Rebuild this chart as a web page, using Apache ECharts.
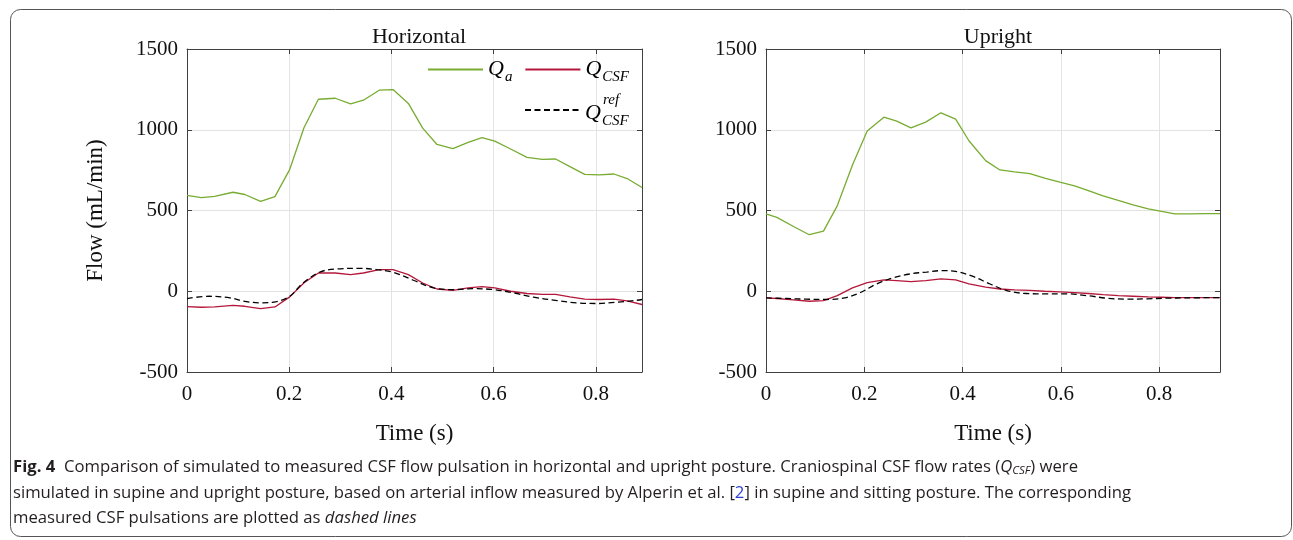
<!DOCTYPE html>
<html>
<head>
<meta charset="utf-8">
<script src="https://cdn.jsdelivr.net/npm/echarts@6/dist/echarts.min.js"></script>
<style>
html,body{margin:0;padding:0;background:#fff;}
#c{width:1293px;height:540px;}
</style>
</head>
<body>
<div id="c"></div>
<script>
// ---- data ----
const xTicks = [0, 0.2, 0.4, 0.6, 0.8];
const yTicks = [-500, 0, 500, 1000, 1500];

// Horizontal panel
const tH = [0,0.028,0.054,0.09,0.113,0.144,0.172,0.201,0.229,0.257,0.29,0.32,0.345,0.376,0.403,0.433,0.461,0.489,0.52,0.55,0.577,0.602,0.633,0.665,0.695,0.721,0.749,0.778,0.806,0.835,0.861,0.89];
const qaH = [593,580,588,613,599,556,586,755,1014,1189,1195,1160,1183,1245,1249,1163,1010,909,883,922,951,930,881,829,817,819,772,724,720,726,698,642];
const qcsfH = [-95,-99,-97,-88,-93,-107,-97,-35,53,113,113,103,113,134,134,103,51,14,6,21,29,21,0,-14,-19,-19,-35,-49,-51,-49,-60,-82];
const tHref = [0,0.044,0.084,0.116,0.146,0.175,0.201,0.227,0.26,0.293,0.339,0.371,0.404,0.443,0.482,0.521,0.561,0.6,0.639,0.678,0.724,0.763,0.802,0.841,0.874,0.89];
const qrefH = [-45,-31,-41,-64,-72,-64,-31,51,119,138,142,134,117,68,21,10,16,10,-10,-37,-58,-72,-76,-68,-58,-51];

// Upright panel
const tU = [0,0.022,0.056,0.088,0.117,0.145,0.176,0.206,0.24,0.266,0.295,0.325,0.356,0.386,0.413,0.447,0.476,0.506,0.537,0.567,0.598,0.628,0.656,0.686,0.717,0.747,0.778,0.805,0.832,0.862,0.896,0.924];
const qaU = [479,457,401,350,372,529,782,992,1078,1053,1012,1047,1105,1066,932,809,751,739,728,700,675,652,623,591,562,535,510,494,479,479,481,481];
const qcsfU = [-41,-45,-53,-62,-58,-27,21,53,70,66,60,66,76,70,45,25,14,8,6,0,-4,-8,-14,-21,-27,-31,-35,-37,-39,-39,-39,-39];
const tUref = [0,0.042,0.083,0.123,0.16,0.191,0.225,0.259,0.293,0.327,0.359,0.386,0.42,0.456,0.49,0.53,0.571,0.612,0.653,0.694,0.734,0.775,0.815,0.856,0.924];
const qrefU = [-41,-45,-49,-51,-41,-10,45,84,107,119,128,123,93,45,4,-14,-16,-16,-27,-43,-49,-47,-43,-41,-39];

const xMaxH = 0.89, xMaxU = 0.924;
const panelTitles = ['Horizontal', 'Upright'];

// ---- helpers ----
const zip = (t, v) => t.map((x, i) => [x, v[i]]);
const SERIF = 'Liberation Serif';
const AX = '#404040';
const GRID = '#e3e3e3';
const GREEN = '#77ac30', RED = '#b5173a';

function fmtX(v) {
  for (const t of xTicks) if (Math.abs(v - t) < 1e-6) return String(t);
  return '';
}
function fmtY(v) {
  for (const t of yTicks) if (Math.abs(v - t) < 1e-6) return String(t);
  return '';
}
function xAx(gi, max, top) {
  return {
    type: 'value', gridIndex: gi, min: 0, max: max, interval: 0.2,
    position: top ? 'top' : 'bottom',
    axisLine: { show: true, onZero: false, lineStyle: { color: AX, width: 1 } },
    axisTick: { show: true, inside: true, length: 5, lineStyle: { color: AX } },
    axisLabel: top ? { show: false } : { show: true, formatter: fmtX, fontFamily: SERIF, fontSize: 21, color: '#111', margin: 12 },
    splitLine: top ? { show: false } : { show: true, lineStyle: { color: GRID, width: 1 } },
    name: (top ? '' : 'Time (s)'), nameLocation: 'middle', nameGap: 50,
    nameTextStyle: { fontFamily: SERIF, fontSize: 23, color: '#111' }
  };
}
function yAx(gi, right, withName) {
  return {
    type: 'value', gridIndex: gi, min: -500, max: 1500, interval: 500,
    position: right ? 'right' : 'left',
    axisLine: { show: true, onZero: false, lineStyle: { color: AX, width: 1 } },
    axisTick: { show: true, inside: true, length: 5, lineStyle: { color: AX } },
    axisLabel: right ? { show: false } : { show: true, formatter: fmtY, fontFamily: SERIF, fontSize: 21, color: '#111', margin: 9 },
    splitLine: right ? { show: false } : { show: true, lineStyle: { color: GRID, width: 1 } },
    name: withName ? 'Flow (mL/min)' : '', nameLocation: 'middle', nameGap: 80,
    nameTextStyle: { fontFamily: SERIF, fontSize: 23, color: '#111' }
  };
}
function ser(name, data, xi, yi, color, dashed) {
  return {
    type: 'line', name: name, data: data, xAxisIndex: xi, yAxisIndex: yi,
    symbol: 'none', showSymbol: false, smooth: dashed ? 0.35 : false,
    lineStyle: { color: color, width: 1.3, type: dashed ? [6, 3.5] : 'solid' },
    itemStyle: { color: color }, animation: false, z: dashed ? 3 : 2
  };
}

const legendRich = {
  q: { fontFamily: SERIF, fontStyle: 'italic', fontSize: 22, color: '#000', lineHeight: 22 },
  s: { fontFamily: SERIF, fontStyle: 'italic', fontSize: 15, color: '#000', lineHeight: 6, padding: [16, 0, 0, 1] },
  r: { fontFamily: SERIF, fontStyle: 'italic', fontSize: 15, color: '#000', lineHeight: 6, padding: [3, 0, 0, 1] },
  sp: { width: 17, lineHeight: 6 }
};
function legendFmt(name) {
  if (name === 'Qa') return '{q|Q}{s|a}';
  if (name === 'QCSF') return '{q|Q}{s|CSF}';
  return '{sp|}{r|ref}\n{q|Q}{s|CSF}';
}

const capFont = 'Open Sans';
const capSize = 16.7;
const capRich = {
  b: { fontFamily: capFont, fontSize: capSize, fontWeight: 'bold', fill: '#231f20' },
  i: { fontFamily: capFont, fontSize: capSize, fontStyle: 'italic', fill: '#231f20' },
  is: { fontFamily: capFont, fontSize: 11.5, fontStyle: 'italic', fill: '#231f20', padding: [7, 0, 0, 0] },
  l: { fontFamily: capFont, fontSize: capSize, fill: '#2b3fd6' }
};
const capLines = [
  '{b|Fig. 4}  Comparison of simulated to measured CSF flow pulsation in horizontal and upright posture. Craniospinal CSF flow rates ({i|Q}{is|CSF}) were',
  'simulated in supine and upright posture, based on arterial inflow measured by Alperin et al. [{l|2}] in supine and sitting posture. The corresponding',
  'measured CSF pulsations are plotted as {i|dashed lines}'
];
const capY = [467, 493, 518];

const chart = echarts.init(document.getElementById('c'), null, { renderer: 'canvas' });
chart.setOption({
  animation: false,
  backgroundColor: '#fff',
  title: [
    { text: panelTitles[0], left: 414, top: 21, textAlign: 'center', textStyle: { fontFamily: SERIF, fontSize: 22, fontWeight: 'normal', color: '#111' } },
    { text: panelTitles[1], left: 993, top: 21, textAlign: 'center', textStyle: { fontFamily: SERIF, fontSize: 22, fontWeight: 'normal', color: '#111' } }
  ],
  grid: [
    { left: 187, top: 49, width: 455, height: 323, containLabel: false },
    { left: 766, top: 49, width: 454, height: 323, containLabel: false }
  ],
  xAxis: [xAx(0, xMaxH, false), xAx(0, xMaxH, true), xAx(1, xMaxU, false), xAx(1, xMaxU, true)],
  yAxis: [yAx(0, false, true), yAx(0, true, false), yAx(1, false, false), yAx(1, true, false)],
  legend: [
    { data: ['Qa', 'QCSF'], left: 427, top: 54, padding: 0, itemWidth: 55, itemHeight: 14, itemGap: 12,
      itemStyle: { opacity: 0 },
      formatter: legendFmt, textStyle: { rich: legendRich }, selectedMode: false },
    { data: ['QCSFref'], left: 524, top: 90, padding: 0, itemWidth: 55, itemHeight: 14,
      itemStyle: { opacity: 0 },
      formatter: legendFmt, textStyle: { rich: legendRich }, selectedMode: false }
  ],
  series: [
    ser('Qa', zip(tH, qaH), 0, 0, GREEN, false),
    ser('QCSF', zip(tH, qcsfH), 0, 0, RED, false),
    ser('QCSFref', zip(tHref, qrefH), 0, 0, '#000', true),
    ser('Qa', zip(tU, qaU), 2, 2, GREEN, false),
    ser('QCSF', zip(tU, qcsfU), 2, 2, RED, false),
    ser('QCSFref', zip(tUref, qrefU), 2, 2, '#000', true)
  ],
  graphic: [
    { type: 'rect', shape: { x: 10.5, y: 9.5, width: 1281, height: 527, r: 10 }, style: { fill: 'none', stroke: '#555', lineWidth: 1 }, silent: true, z: -1 }
  ].concat(capLines.map((txt, i) => ({
    type: 'text', x: 13, y: capY[i], silent: true,
    style: { text: txt, fontFamily: capFont, fontSize: capSize, fill: '#231f20', verticalAlign: 'middle', rich: capRich }
  })))
});
</script>
</body>
</html>
